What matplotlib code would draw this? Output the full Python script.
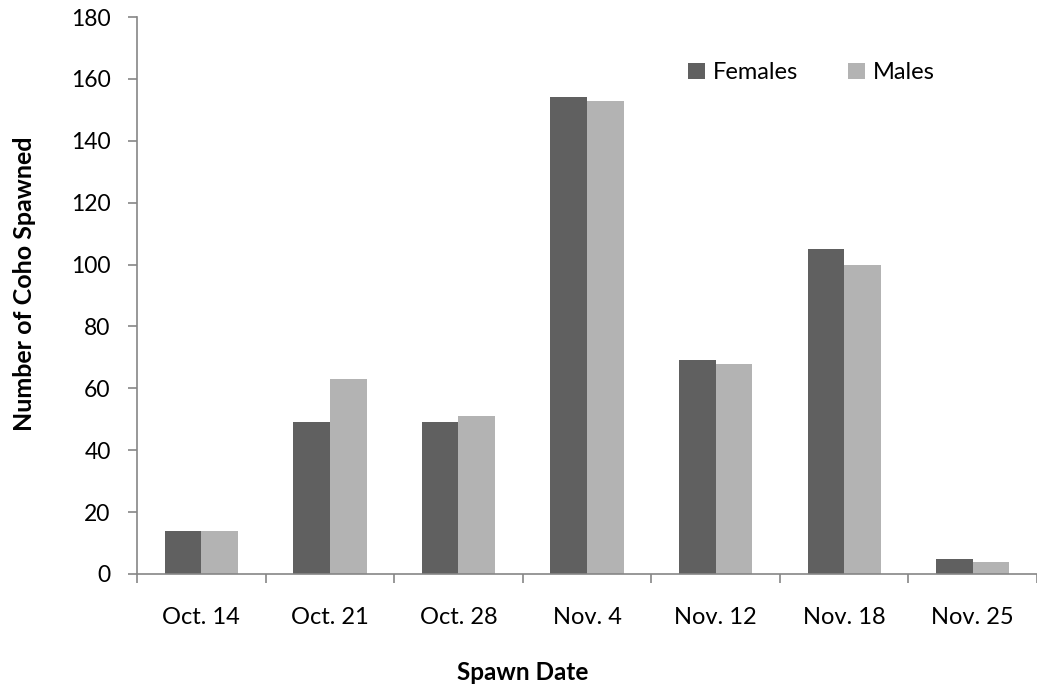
import matplotlib
matplotlib.use('Agg')
import matplotlib.pyplot as plt
import numpy as np

dates = ['Oct. 14', 'Oct. 21', 'Oct. 28', 'Nov. 4', 'Nov. 12', 'Nov. 18', 'Nov. 25']
females = [14, 49, 49, 154, 69, 105, 5]
males = [14, 63, 51, 153, 68, 100, 4]

plt.rcParams.update({'font.family': ['Lato', 'DejaVu Sans']})
W, H = 1037, 688
fig = plt.figure(figsize=(W/100, H/100), dpi=100)
ax = fig.add_axes([137/W, 1-574/H, 1-137/W, (574-17)/H])

x = np.arange(len(dates))
w = 0.285
ax.bar(x - w/2, females, w, color='#606060', label='Females')
ax.bar(x + w/2, males, w, color='#b3b3b3', label='Males')

fs = 17
ax.set_xlim(-0.5, len(dates) - 0.5)
ax.set_ylim(0, 180)
ax.set_yticks(np.arange(0, 181, 20))
ax.set_xticks(x)
ax.set_xticklabels(dates)
ax.set_xticks(np.arange(-0.5, len(dates), 1), minor=True)
ax.tick_params(axis='x', which='major', length=0, pad=24, labelsize=fs)
ax.tick_params(axis='x', which='minor', length=6.5, width=1.2, color='#868686', direction='out')
ax.tick_params(axis='y', length=6.5, width=1.2, color='#868686', labelsize=16.5, pad=12.5)
for s in ['top', 'right']:
    ax.spines[s].set_visible(False)
for s in ['left', 'bottom']:
    ax.spines[s].set_color('#868686')
    ax.spines[s].set_linewidth(1.2)

# axis titles placed where the original puts them
fig.text(523/W, 1-672/H, 'Spawn Date', fontsize=17.5, fontweight='bold', ha='center', va='center')
fig.text(25/W, 1-284/H, 'Number of Coho Spawned', fontsize=18, fontweight='bold',
         rotation=90, ha='center', va='center')

ax.legend(loc='upper left', bbox_to_anchor=(0.589, 0.957), ncol=2, frameon=False,
          fontsize=fs, handlelength=0.7, handleheight=0.7, handletextpad=0.35,
          columnspacing=2.1)

fig.savefig('out.png', dpi=100)
